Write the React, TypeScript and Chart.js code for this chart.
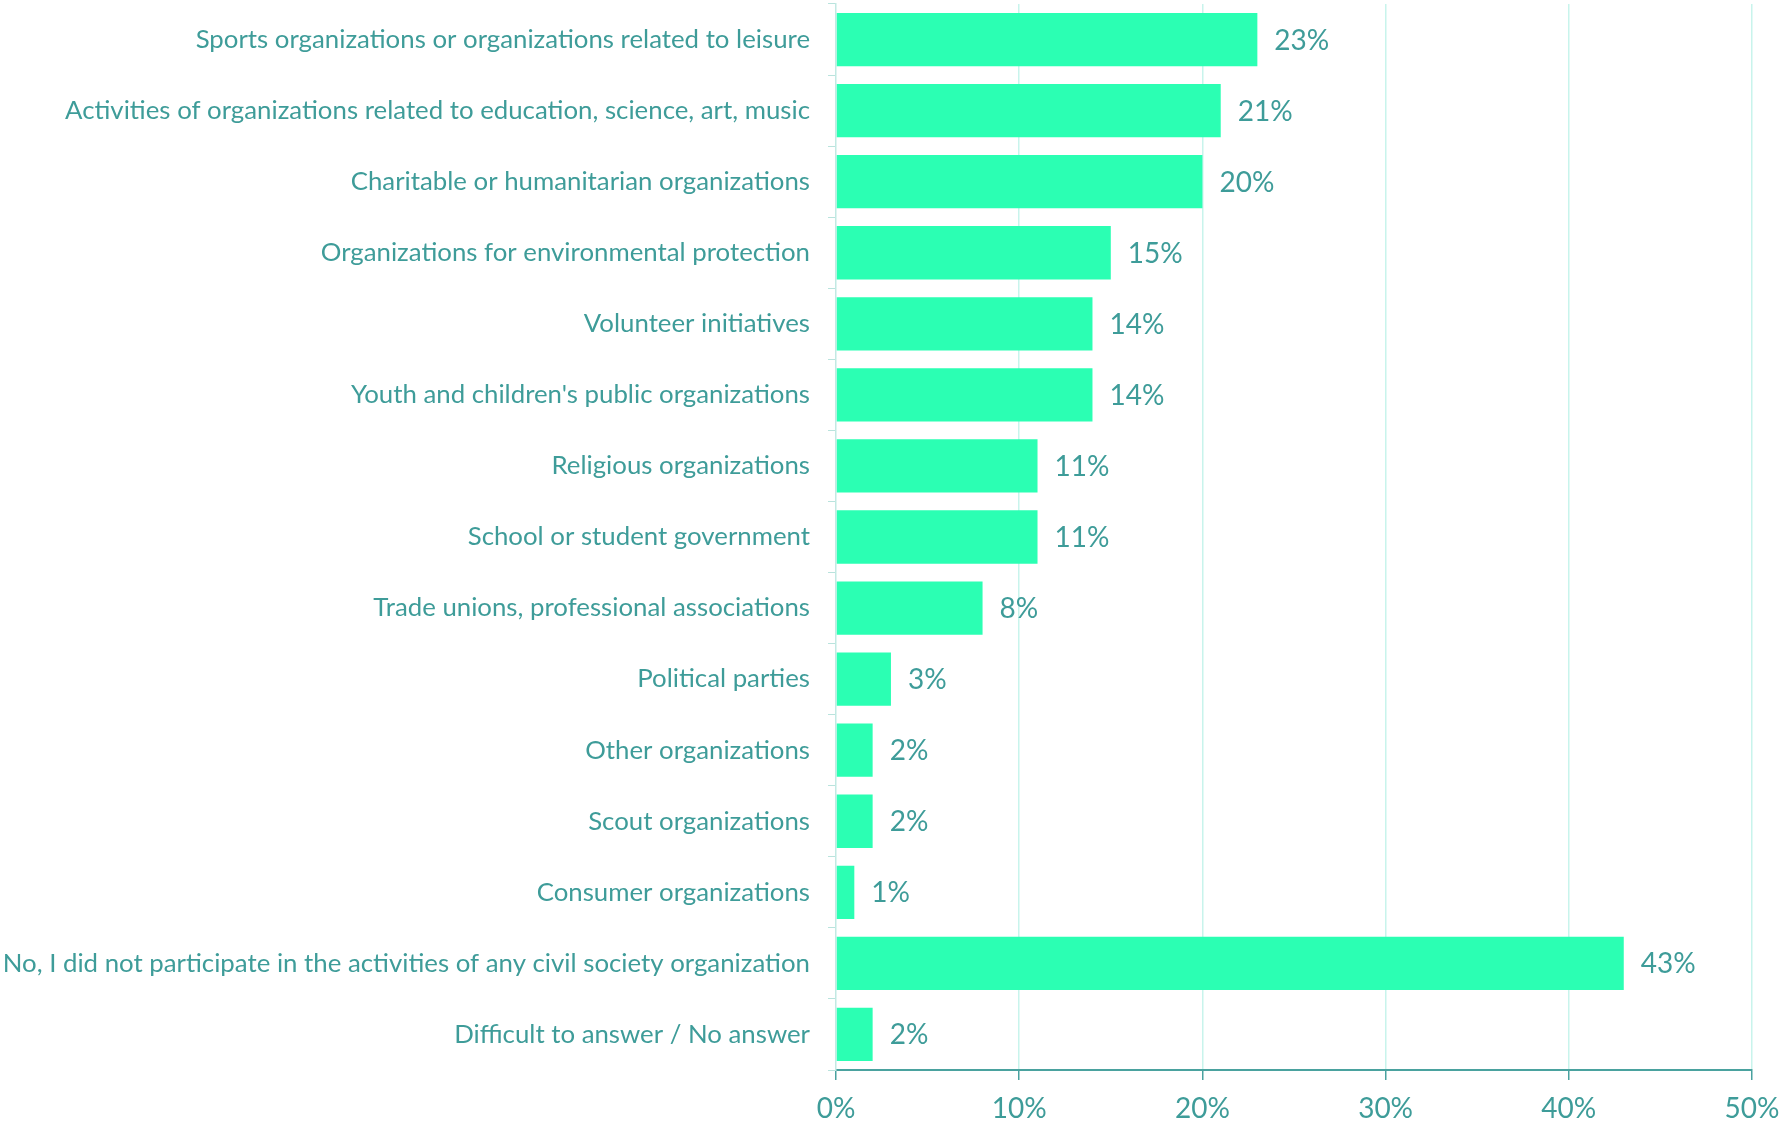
import React, { useEffect, useRef } from "react";
import { Chart, registerables } from "chart.js";

Chart.register(...registerables);

const categories: string[] = [
  "Sports organizations or organizations related to leisure",
  "Activities of organizations related to education, science, art, music",
  "Charitable or humanitarian organizations",
  "Organizations for environmental protection",
  "Volunteer initiatives",
  "Youth and children's public organizations",
  "Religious organizations",
  "School or student government",
  "Trade unions, professional associations",
  "Political parties",
  "Other organizations",
  "Scout organizations",
  "Consumer organizations",
  "No, I did not participate in the activities of any civil society organization",
  "Difficult to answer / No answer",
];

const values: number[] = [23, 21, 20, 15, 14, 14, 11, 11, 8, 3, 2, 2, 1, 43, 2];

const xTicks: number[] = [0, 10, 20, 30, 40, 50];

const TEXT = "#3e9c99";
const BAR = "#2bffb3";
const GRID = "#c8f4ec";
const AXIS = "#4aa29f";
const FONT = "Lato, 'Open Sans', sans-serif";

const valueLabels = {
  id: "valueLabels",
  afterDatasetsDraw(chart: any) {
    const ctx = chart.ctx;
    const meta = chart.getDatasetMeta(0);
    ctx.save();
    ctx.fillStyle = TEXT;
    ctx.font = `28px ${FONT}`;
    ctx.textAlign = "left";
    ctx.textBaseline = "middle";
    meta.data.forEach((bar: any, i: number) => {
      ctx.fillText(`${values[i]}%`, bar.x + 17, bar.y + 1);
    });
    ctx.restore();
  },
};

export default function App() {
  const ref = useRef<HTMLCanvasElement | null>(null);

  useEffect(() => {
    if (!ref.current) return;
    const chart = new Chart(ref.current, {
      type: "bar",
      data: {
        labels: categories,
        datasets: [
          {
            data: values,
            backgroundColor: BAR,
            borderWidth: 0,
            barPercentage: 0.75,
            categoryPercentage: 1,
          },
        ],
      },
      options: {
        indexAxis: "y",
        animation: false,
        responsive: false,
        maintainAspectRatio: false,
        layout: { padding: { left: 0, right: 29, top: 4, bottom: 0 } },
        plugins: {
          legend: { display: false },
          tooltip: { enabled: false },
        },
        scales: {
          x: {
            min: 0,
            max: 50,
            afterBuildTicks: (scale: any) => {
              scale.ticks = xTicks.map((v) => ({ value: v }));
            },
            afterFit: (scale: any) => {
              scale.height = 55;
              scale.paddingLeft = 0;
              scale.paddingRight = 0;
            },
            grid: {
              color: (c: any) => (c.tick && c.tick.value === 0 ? "rgba(0,0,0,0)" : GRID),
              lineWidth: 1.5,
              tickColor: AXIS,
              tickLength: 10,
              drawTicks: true,
            },
            border: { color: AXIS, width: 2 },
            ticks: {
              color: TEXT,
              font: { family: FONT, size: 28 },
              padding: 12,
              maxRotation: 0,
              callback: (v: any) => `${v}%`,
            },
          },
          y: {
            afterFit: (scale: any) => {
              scale.width = 836;
              scale.paddingTop = 0;
              scale.paddingBottom = 0;
            },
            grid: {
              drawOnChartArea: false,
              drawTicks: true,
              tickLength: 8,
              color: "#b9e3dd",
              offset: true,
            },
            border: { color: "#c2e9e3", width: 1.5 },
            ticks: {
              color: TEXT,
              font: { family: FONT, size: 25.8 },
              padding: 18,
              autoSkip: false,
            },
          },
        },
      },
      plugins: [valueLabels],
    });
    return () => chart.destroy();
  }, []);

  return (
    <div style={{ position: "absolute", left: 0, top: 0, width: 1781, height: 1125, background: "#fff" }}>
      <canvas ref={ref} width={1781} height={1125} style={{ width: 1781, height: 1125 }} />
    </div>
  );
}
